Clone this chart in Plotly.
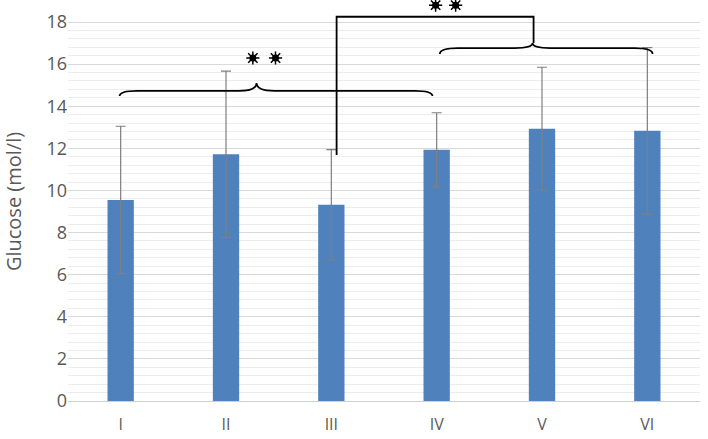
import plotly.graph_objects as go

# ---- data ----
groups = ["I", "II", "III", "IV", "V", "VI"]
glucose_mean = [9.55, 11.72, 9.32, 11.93, 12.93, 12.83]
glucose_sd = [3.50, 3.95, 2.62, 1.76, 2.92, 3.95]
y_ticks = [0, 2, 4, 6, 8, 10, 12, 14, 16, 18]

# significance decorations (x in group index units, y in glucose units)
brace1 = dict(x0=-0.01, x1=2.96, xt=1.29, y_end=14.48, y_base=14.73, y_tip=15.1)
brace2 = dict(x0=3.03, x1=5.05, xt=3.91, y_end=16.48, y_base=16.76, y_tip=17.0)
bracket_x = [2.05, 2.05, 3.92, 3.92]
bracket_y = [11.68, 18.25, 18.25, 17.0]
star_x = [1.255, 1.47, 2.99, 3.18]
star_y = [16.29, 16.29, 18.8, 18.8]

x_idx = list(range(len(groups)))

fig = go.Figure()
fig.add_trace(go.Bar(
    x=x_idx, y=glucose_mean,
    marker=dict(color="#4f81bd", line=dict(width=0)),
    width=0.25,
    error_y=dict(type="data", array=glucose_sd, visible=True,
                 color="#7f7f7f", thickness=1.2, width=5),
    showlegend=False, hoverinfo="skip",
))

def brace_path(b, d=0.17):
    x0, x1, xt = b["x0"], b["x1"], b["xt"]
    ye, yb, yt = b["y_end"], b["y_base"], b["y_tip"]
    return (f"M {x0},{ye} Q {x0},{yb} {x0+d},{yb} "
            f"L {xt-d},{yb} Q {xt},{yb} {xt},{yt} "
            f"Q {xt},{yb} {xt+d},{yb} "
            f"L {x1-d},{yb} Q {x1},{yb} {x1},{ye}")

shapes = []
for b in (brace1, brace2):
    shapes.append(dict(type="path", path=brace_path(b), xref="x", yref="y",
                       line=dict(color="black", width=1.8), layer="above"))
fig.update_layout(shapes=shapes)

fig.add_trace(go.Scatter(
    x=bracket_x, y=bracket_y, mode="lines",
    line=dict(color="black", width=1.8),
    showlegend=False, hoverinfo="skip", cliponaxis=False,
))
fig.add_trace(go.Scatter(
    x=star_x, y=star_y, mode="markers",
    marker=dict(symbol="circle", size=7, color="black"),
    showlegend=False, hoverinfo="skip", cliponaxis=False,
))
fig.add_trace(go.Scatter(
    x=star_x, y=star_y, mode="markers",
    marker=dict(symbol="asterisk-open", size=11, color="black",
                line=dict(color="black", width=1.5)),
    showlegend=False, hoverinfo="skip", cliponaxis=False,
))

fig.update_layout(
    width=708, height=439,
    margin=dict(l=68, r=8, t=2, b=38, autoexpand=False),
    paper_bgcolor="white", plot_bgcolor="white",
    font=dict(family="Open Sans, Liberation Sans, sans-serif", size=17, color="#595959"),
    bargap=0.75,
    xaxis=dict(
        range=[-0.5, 5.5], tickvals=x_idx, ticktext=groups,
        showgrid=False, zeroline=False, showline=False, ticks="",
        ticklabelstandoff=12,
        tickfont=dict(size=16, color="#595959"),
    ),
    yaxis=dict(
        range=[0, 18.95], tickvals=y_ticks,
        showgrid=True, gridcolor="#d9d9d9", gridwidth=1,
        zeroline=True, zerolinecolor="#d0d0d0", zerolinewidth=1,
        showline=False, ticks="",
        tickfont=dict(size=18, color="#595959"),
        title=dict(text="Glucose (mol/l)", font=dict(size=20, color="#595959"), standoff=20),
        minor=dict(tickvals=[round(i * 0.4, 2) for i in range(46) if i % 5 != 0],
                   showgrid=True, gridcolor="#ececec", gridwidth=1),
    ),
)

fig.write_html("out.html", config={"displayModeBar": False},
               post_script="document.body.style.margin='0';document.body.style.padding='0';")
